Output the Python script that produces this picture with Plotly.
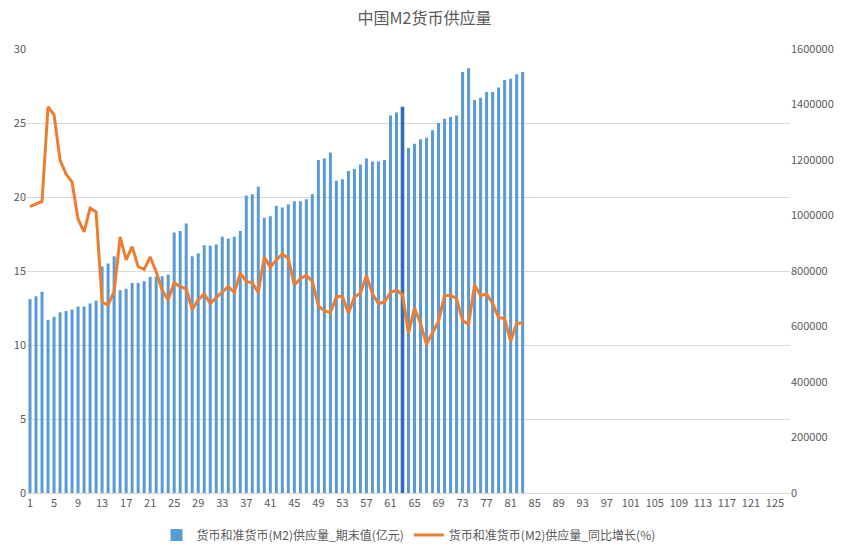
import plotly.graph_objects as go

# category axis: 1..127
categories = list(range(1, 128))
tick_labels = list(range(1, 126, 4))

# M2 level (亿元)
m2_level = [
    699000, 709000, 725000, 624000, 635000, 651000, 656000, 661000, 672000, 672000,
    683000, 693000, 816000, 827000, 853000, 731000, 736000, 757000, 757000, 763000,
    779000, 779000, 781000, 787000, 939000, 944000, 971000, 853000, 864000, 893000,
    891000, 896000, 923000, 917000, 923000, 944000, 1072000, 1077000, 1104000, 992000,
    997000, 1035000, 1029000, 1040000, 1051000, 1051000, 1059000, 1077000, 1200000, 1205000,
    1227000, 1125000, 1131000, 1160000, 1168000, 1184000, 1205000, 1195000, 1195000, 1200000,
    1360000, 1371000, 1392000, 1243000, 1259000, 1275000, 1280000, 1307000, 1333000, 1349000,
    1355000, 1360000, 1517000, 1531000, 1416000, 1424000, 1445000, 1445000, 1461000, 1488000,
    1493000, 1509000, 1517000,
]

# M2 year-on-year growth (%)
m2_growth = [
    19.35, 19.5, 19.7, 26.1, 25.55, 22.5, 21.55, 21.0, 18.5, 17.65,
    19.25, 19.0, 12.9, 12.7, 13.6, 17.3, 15.75, 16.65, 15.3, 15.1,
    15.95, 14.95, 13.7, 13.05, 14.2, 13.95, 13.8, 12.4, 13.05, 13.45,
    12.8, 13.2, 13.6, 13.95, 13.55, 14.85, 14.3, 14.2, 13.55, 15.95,
    15.25, 15.75, 16.15, 15.85, 14.05, 14.5, 14.7, 14.3, 12.65, 12.3,
    12.2, 13.25, 13.3, 12.15, 13.25, 13.5, 14.7, 13.45, 12.8, 12.9,
    13.55, 13.7, 13.4, 10.8, 12.5, 11.45, 10.05, 10.8, 11.6, 13.35,
    13.35, 13.15, 11.65, 11.4, 14.05, 13.35, 13.45, 12.8, 11.85, 11.8,
    10.25, 11.45, 11.5,
]

highlight_index = 63  # the darker, selected bar

bar_x = categories[:len(m2_level)]
line_x = categories[:len(m2_growth)]
bar_colors = ["#2E6DB4" if c == highlight_index else "#5B9BD5" for c in bar_x]
bar_widths = [0.6 if c == highlight_index else 0.5 for c in bar_x]

font_family = "Noto Sans CJK SC"
gray = "#595959"

fig = go.Figure()
fig.add_trace(go.Bar(
    x=bar_x, y=m2_level, name="货币和准货币(M2)供应量_期末值(亿元)",
    marker=dict(color=bar_colors, line=dict(width=0)),
    width=bar_widths, yaxis="y",
))
fig.add_trace(go.Scatter(
    x=line_x, y=m2_growth, name="货币和准货币(M2)供应量_同比增长(%)",
    mode="lines", line=dict(color="#ED7D31", width=3),
    yaxis="y2",
))

H = 561
fig.update_layout(
    template="none",
    width=849, height=H,
    margin=dict(l=27, r=59, t=49, b=H - 493),
    paper_bgcolor="white", plot_bgcolor="white",
    font=dict(family=font_family, size=11, color=gray),
    title=dict(text="中国M2货币供应量", x=0.5, xanchor="center",
               y=1 - 18 / H, yanchor="middle", yref="container",
               font=dict(size=16, color=gray)),
    xaxis=dict(
        range=[0.5, 127.5], tickmode="array", tickvals=tick_labels,
        ticktext=[str(t) for t in tick_labels], automargin=False,
        showgrid=False, showline=True, linecolor="#D9D9D9", linewidth=1,
        ticks="", zeroline=False,
    ),
    yaxis=dict(
        side="right", range=[0, 1600000], dtick=200000, showgrid=False,
        zeroline=False, showline=False, ticks="", tickformat="d",
        automargin=False,
    ),
    yaxis2=dict(
        side="left", overlaying="y", range=[0, 30], dtick=5,
        showgrid=True, gridcolor="#D9D9D9", gridwidth=1,
        zeroline=False, showline=False, ticks="", automargin=False,
    ),
    legend=dict(orientation="h", x=0.5, xanchor="center", y=-42 / 444,
                yanchor="middle", font=dict(size=12, color=gray),
                traceorder="normal"),
    bargap=0.5,
)

fig.write_html(
    "out.html",
    config={"displayModeBar": False, "responsive": False},
    post_script="document.body.style.margin='0';",
)
